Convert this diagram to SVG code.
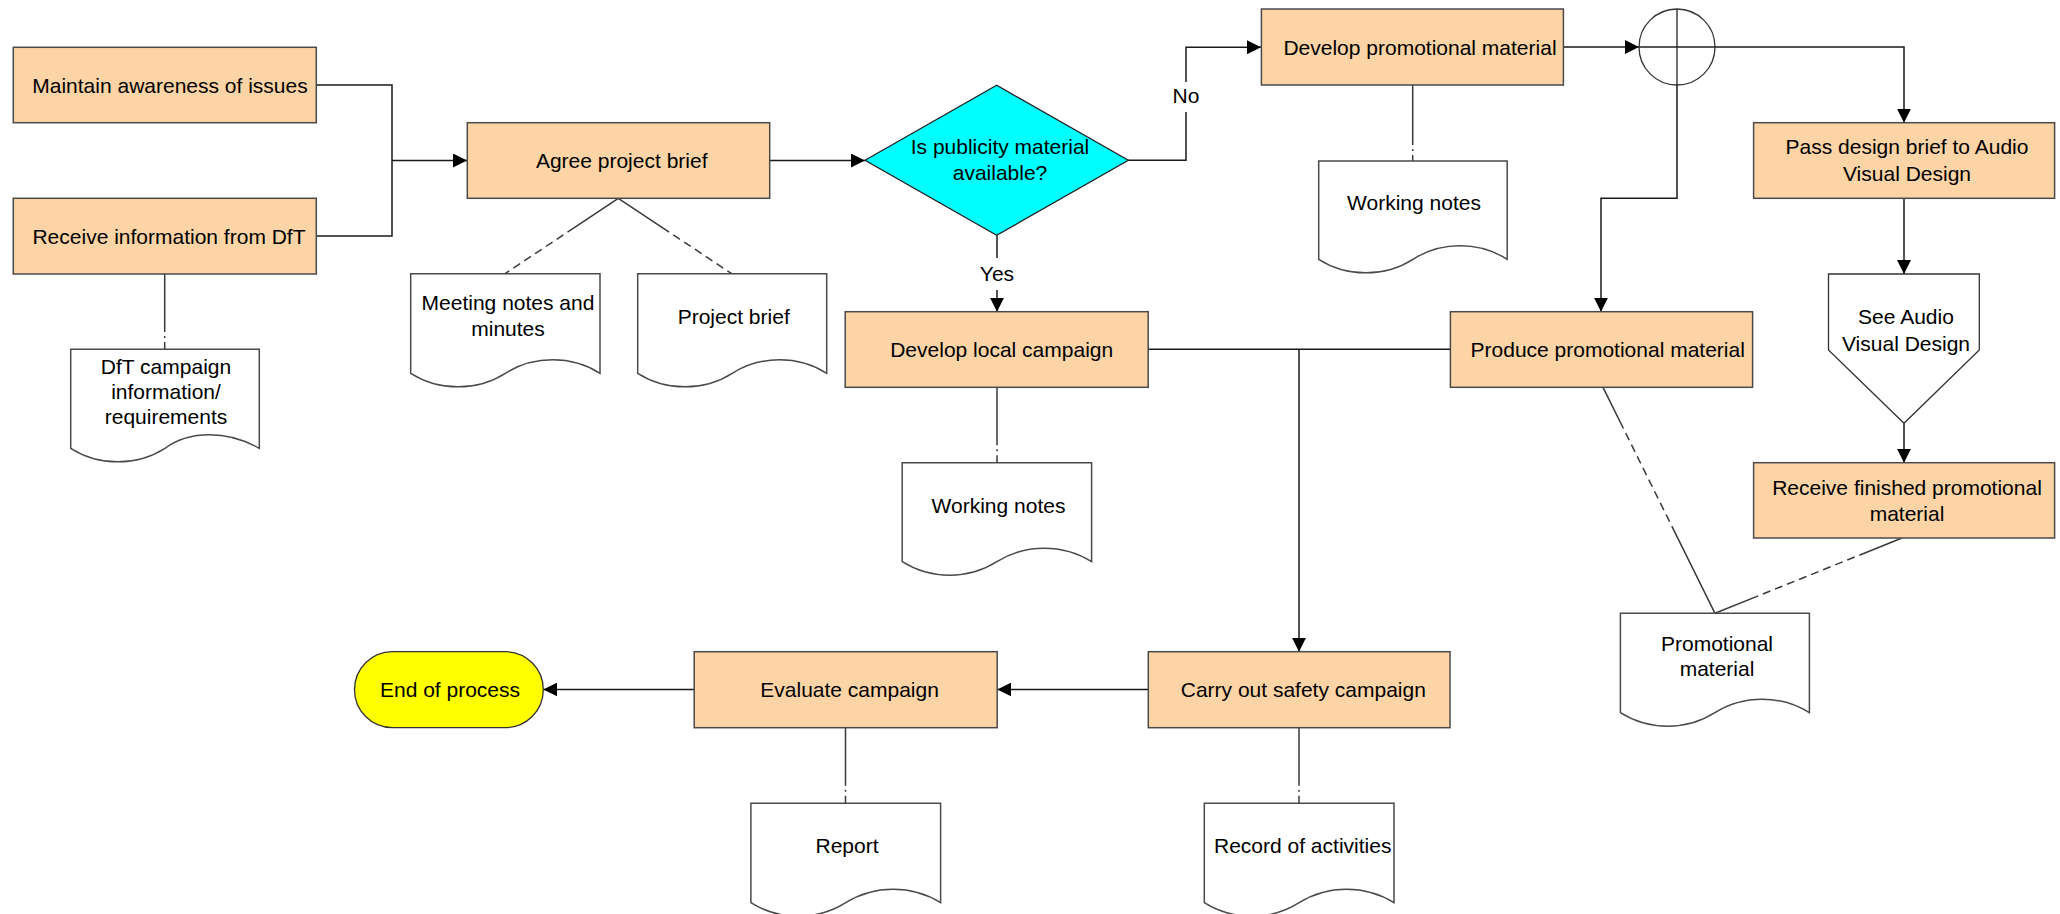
<svg xmlns="http://www.w3.org/2000/svg" width="2060" height="914" viewBox="0 0 2060 914">
<style>
text{font-family:"Liberation Sans",Arial,sans-serif;font-size:21px;fill:#000;text-anchor:middle}
.box{fill:#FDD4A6;stroke:#4a4a4a;stroke-width:1.5}
.doc{fill:#fff;stroke:#4a4a4a;stroke-width:1.5}
.dec{fill:#00FFFF;stroke:#222;stroke-width:1.3}
.term{fill:#FFFF00;stroke:#333;stroke-width:1.3}
.off{fill:#fff;stroke:#333;stroke-width:1.3}
.ln{fill:none;stroke:#1a1a1a;stroke-width:1.5}
.as{fill:none;stroke:#3a3a3a;stroke-width:1.5}
.arr{marker-end:url(#ah)}
</style>
<defs>
<marker id="ah" markerUnits="userSpaceOnUse" markerWidth="15" markerHeight="14" refX="14" refY="7" orient="auto">
<path d="M0,0 L14,7 L0,14 Z" fill="#000"/>
</marker>
</defs>
<rect width="2060" height="914" fill="#fff"/>

<g id="connectors">
<path class="ln" d="M316,85 H392 V236 H316"/>
<path class="ln arr" d="M392,160.5 H467"/>
<path class="ln arr" d="M770,160.5 H865"/>
<path class="ln" d="M1128,160.3 H1186 V112"/>
<path class="ln arr" d="M1186,82 V47.3 H1261"/>
<path class="ln" d="M997,235.3 V258"/>
<path class="ln arr" d="M997,290 V311.7"/>
<path class="ln arr" d="M1563.5,47 H1639"/>
<path class="ln arr" d="M1715,47 H1904 V122.7"/>
<path class="ln arr" d="M1677,85 V198.3 H1601 V311.7"/>
<path class="ln arr" d="M1904,198.3 V274"/>
<path class="ln arr" d="M1904,423.3 V462.7"/>
<path class="ln" d="M1148,349.3 H1450"/>
<path class="ln arr" d="M1299,349.3 V651.7"/>
<path class="ln arr" d="M1148,689.5 H997.3"/>
<path class="ln arr" d="M694,689.5 H543.3"/>
<path class="as" d="M164.7,274 V349.3" stroke-dasharray="58 4 2 4 100"/>
<path class="as" d="M618.3,198.3 L505,273.7" stroke-dasharray="61 5 8 5 8 5 8 5 8 5 8 5 8 5 100"/>
<path class="as" d="M618.3,198.3 L731.7,273.7" stroke-dasharray="61 5 8 5 8 5 8 5 8 5 8 5 8 5 100"/>
<path class="as" d="M1412.7,85 V161" stroke-dasharray="60 4 2 4 100"/>
<path class="as" d="M997,387.3 V462.7" stroke-dasharray="58 4 2 4 100"/>
<path class="as" d="M1603,387.3 L1715,613.3" stroke-dasharray="46 5 8 5 8 5 8 5 8 5 8 5 8 5 8 5 8 5 300"/>
<path class="as" d="M1902,538 L1715,613.3" stroke-dasharray="46 5 8 5 8 5 8 5 8 5 8 5 8 5 8 5 8 5 300"/>
<path class="as" d="M845.5,727.7 V803.3" stroke-dasharray="58 4 2 4 100"/>
<path class="as" d="M1299,727.7 V803.3" stroke-dasharray="58 4 2 4 100"/>
<text x="1186" y="103">No</text>
<text x="997" y="280.5">Yes</text>
</g>

<g id="maintain"><rect class="box" x="13.3" y="47.3" width="303" height="75.4"/><text x="170" y="92.5">Maintain awareness of issues</text></g>
<g id="receive-dft"><rect class="box" x="13.3" y="198.3" width="303" height="75.7"/><text x="169" y="243.5">Receive information from DfT</text></g>
<g id="agree"><rect class="box" x="467.3" y="122.7" width="302.4" height="75.6"/><text x="621.7" y="167.5">Agree project brief</text></g>
<g id="decision"><polygon class="dec" points="865,160.3 996.7,85.3 1128.3,160.3 996.7,235.3"/><text x="1000" y="154">Is publicity material</text><text x="1000" y="180">available?</text></g>
<g id="develop-promo"><rect class="box" x="1261.4" y="9" width="302" height="76"/><text x="1420" y="54.5">Develop promotional material</text></g>
<g id="or-junction"><circle cx="1677" cy="47" r="38" fill="#fff" stroke="#333" stroke-width="1.3"/><path d="M1639,47 H1715 M1677,9 V85" stroke="#222" stroke-width="1.3"/></g>
<g id="pass-brief"><rect class="box" x="1753.6" y="122.7" width="301" height="75.6"/><text x="1907" y="154">Pass design brief to Audio</text><text x="1907" y="181">Visual Design</text></g>
<g id="see-av"><polygon class="off" points="1828.5,274 1979.3,274 1979.3,350 1904,423.3 1828.5,350"/><text x="1906" y="324">See Audio</text><text x="1906" y="351">Visual Design</text></g>
<g id="receive-finished"><rect class="box" x="1753.6" y="462.7" width="301" height="75.3"/><text x="1907" y="495">Receive finished promotional</text><text x="1907" y="521">material</text></g>
<g id="produce"><rect class="box" x="1450.4" y="311.7" width="302.2" height="75.6"/><text x="1607.7" y="357">Produce promotional material</text></g>
<g id="develop-local"><rect class="box" x="845.2" y="311.7" width="303" height="75.6"/><text x="1001.7" y="357">Develop local campaign</text></g>
<g id="carry-out"><rect class="box" x="1148.3" y="651.7" width="301.7" height="76"/><text x="1303.3" y="697">Carry out safety campaign</text></g>
<g id="evaluate"><rect class="box" x="694.2" y="651.7" width="303" height="76"/><text x="849.6" y="697">Evaluate campaign</text></g>
<g id="end"><rect class="term" x="354.5" y="651.7" width="188.8" height="76" rx="38" ry="38"/><text x="450" y="697">End of process</text></g>

<g id="doc-dft"><path class="doc" d="M70.7,349.3 H259.3 V448.3 C227.3,430.3 189.6,430.3 165,448.3 C136.7,466.3 99,466.3 70.7,448.3 Z"/><text x="166" y="374">DfT campaign</text><text x="166" y="399">information/</text><text x="166" y="424">requirements</text></g>
<g id="doc-meeting"><path class="doc" d="M410.7,273.7 H600 V373.3 C571.6,355.3 533.7,355.3 505.35,373.3 C477,391.3 439.1,391.3 410.7,373.3 Z"/><text x="508" y="310">Meeting notes and</text><text x="508" y="335.5">minutes</text></g>
<g id="doc-brief"><path class="doc" d="M637.7,273.7 H826.7 V373.3 C798.3,355.3 760.5,355.3 732.2,373.3 C703.9,391.3 666.1,391.3 637.7,373.3 Z"/><text x="733.7" y="323.5">Project brief</text></g>
<g id="doc-notes-top"><path class="doc" d="M1318.7,161 H1507.2 V259.3 C1478.9,241.3 1441.2,241.3 1412.95,259.3 C1384.7,277.3 1347,277.3 1318.7,259.3 Z"/><text x="1414" y="209.5">Working notes</text></g>
<g id="doc-notes-mid"><path class="doc" d="M902.2,462.7 H1091.6 V561.7 C1063.2,543.7 1025.3,543.7 996.9,561.7 C968.5,579.7 930.6,579.7 902.2,561.7 Z"/><text x="998.5" y="512.5">Working notes</text></g>
<g id="doc-promo"><path class="doc" d="M1620.4,613.3 H1809.4 V712.7 C1781,694.7 1743.2,694.7 1714.9,712.7 C1686.6,730.7 1648.8,730.7 1620.4,712.7 Z"/><text x="1717" y="651">Promotional</text><text x="1717" y="676">material</text></g>
<g id="doc-report"><path class="doc" d="M750.9,803.3 H940.6 V902.7 C912.1,884.7 874.2,884.7 845.75,902.7 C817.3,920.7 779.4,920.7 750.9,902.7 Z"/><text x="847" y="852.5">Report</text></g>
<g id="doc-record"><path class="doc" d="M1204.3,803.3 H1394 V902.7 C1365.5,884.7 1327.6,884.7 1299.15,902.7 C1270.7,920.7 1232.8,920.7 1204.3,902.7 Z"/><text x="1302.7" y="852.5">Record of activities</text></g>
</svg>
